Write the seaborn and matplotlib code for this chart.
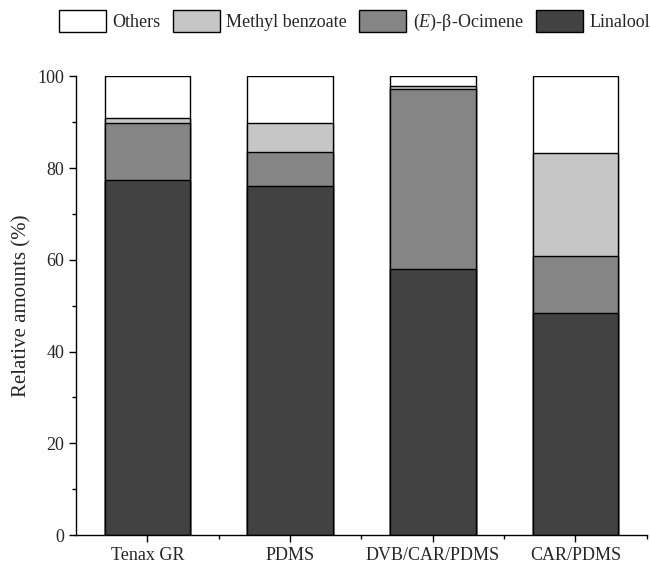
import numpy as np
import pandas as pd
import seaborn as sns
import matplotlib
matplotlib.use("Agg")
import matplotlib.pyplot as plt
from matplotlib.patches import Patch
from matplotlib.ticker import MultipleLocator, FixedLocator

# values (relative amounts, %)
fibers = ["Tenax GR", "PDMS", "DVB/CAR/PDMS", "CAR/PDMS"]
linalool = [77.4, 76.1, 58.1, 48.4]
ocimene = [12.5, 7.5, 39.1, 12.5]
methyl_benzoate = [1.1, 6.3, 0.7, 22.4]
others = [9.0, 10.1, 2.1, 16.7]

labels = ["Linalool", "($\\it{E}$)-β-Ocimene", "Methyl benzoate", "Others"]
colors = ["#424242", "#858585", "#c6c6c6", "#ffffff"]

sns.set_style("ticks")
plt.rcParams["font.family"] = ["Liberation Serif", "DejaVu Serif"]
plt.rcParams["mathtext.fontset"] = "custom"
plt.rcParams["mathtext.it"] = "Liberation Serif:italic"
plt.rcParams["mathtext.rm"] = "Liberation Serif"

df = pd.DataFrame({"Fiber": fibers, "Linalool": linalool, "Ocimene": ocimene,
                   "Methyl benzoate": methyl_benzoate, "Others": others})
layers = ["Linalool", "Ocimene", "Methyl benzoate", "Others"]
cum = df[layers].cumsum(axis=1)

fig = plt.figure(figsize=(6.5, 5.65), dpi=100)
ax = fig.add_axes([0.117, 0.053, 0.878, 0.812])

# draw from the top of the stack down so each layer covers the one above
for layer, color in zip(layers[::-1], colors[::-1]):
    sns.barplot(x=df["Fiber"], y=cum[layer], color=color, edgecolor="black",
                linewidth=1.0, width=0.6, saturation=1, ax=ax)

ax.set_xlim(-0.5, 3.5)
ax.set_ylim(0, 100)
ax.set_xlabel("")
ax.set_ylabel("Relative amounts (%)", fontsize=15)
ax.yaxis.set_major_locator(MultipleLocator(20))
ax.yaxis.set_minor_locator(MultipleLocator(10))
ax.xaxis.set_minor_locator(FixedLocator([0.5, 1.5, 2.5, 3.5]))
ax.tick_params(axis="both", which="major", direction="out", length=5, width=1,
               labelsize=13, color="black")
ax.tick_params(axis="both", which="minor", direction="out", length=3, width=1,
               color="black")
for side in ["top", "right"]:
    ax.spines[side].set_visible(False)
for side in ["left", "bottom"]:
    ax.spines[side].set_linewidth(1)
    ax.spines[side].set_color("black")

handles = [Patch(facecolor=c, edgecolor="black", linewidth=1.0, label=l)
           for c, l in zip(colors[::-1], labels[::-1])]
fig.legend(handles=handles, loc="center", bbox_to_anchor=(0.545, 0.962), ncol=4,
           frameon=False, fontsize=13, handlelength=2.6, handleheight=1.5,
           handletextpad=0.35, columnspacing=0.7, borderaxespad=0)

fig.savefig("out.png", dpi=100)
